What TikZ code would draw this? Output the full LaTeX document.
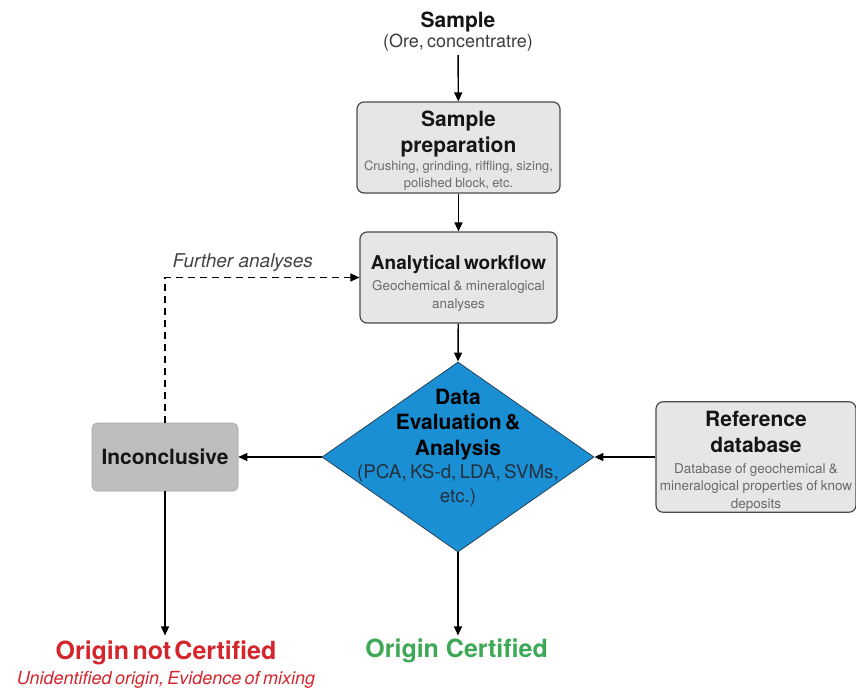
\documentclass[tikz,border=0pt]{standalone}
\usepackage{fontspec}
\setmainfont{TeX Gyre Heros}
\definecolor{wfText}{HTML}{151515}
\definecolor{wfMuted}{HTML}{6A6A6A}
\definecolor{wfDark}{HTML}{3C3C3C}
\definecolor{wfBox}{HTML}{E6E6E6}
\definecolor{wfEdge}{HTML}{4A4A4A}
\definecolor{wfGrey}{HTML}{BEBEBE}
\definecolor{wfGreyEdge}{HTML}{A6A6A6}
\definecolor{wfBlue}{HTML}{1B8FD4}
\definecolor{wfBlueEdge}{HTML}{26445E}
\definecolor{wfBlueText}{HTML}{23303C}
\definecolor{wfRed}{HTML}{D4252C}
\definecolor{wfGreen}{HTML}{3DA956}
\usetikzlibrary{arrows.meta,shapes.geometric}

\tikzset{
  wfbox/.style={draw=wfEdge, fill=wfBox, line width=1.2pt, rounded corners=7pt,
    align=center, inner sep=1pt},
  wfarrow/.style={line width=1.4pt, draw=black, -{Triangle[length=9pt,width=8pt]}},
}

\begin{document}
\begin{tikzpicture}[x=1pt,y=-1pt]
  \useasboundingbox (0,0) rectangle (856,691);
  \fill[white] (0,0) rectangle (856,691);

  % -- Input sample --
  \node[align=center, text width=260pt] (smp) at (458,32) {
    {\fontsize{21}{25}\selectfont\bfseries\color{wfText} Sample\par}
    {\fontsize{18}{20}\selectfont\color{wfDark} (Ore, concentratre)\par}
  };

  % -- Main column --
  \node[wfbox, text width=201pt, minimum width=203pt, minimum height=91pt] (prep) at (458.5,147.5) {
    {\fontsize{21}{26}\selectfont\bfseries\color{wfText}\rule{0pt}{22.3pt}Sample\\preparation\par}
    {\fontsize{12.9}{17.5}\selectfont\color{wfMuted}
      Crushing, grinding, riffling, sizing,\\
      polished block, etc.\par}
  };
  \node[wfbox, text width=195pt, minimum width=197pt, minimum height=91pt] (aw) at (458.5,277.5) {
    {\fontsize{19}{23}\selectfont\bfseries\color{wfText}\rule{0pt}{25pt}Analytical workflow\par}
    \vspace{4pt}
    {\fontsize{13.4}{17.5}\selectfont\color{wfMuted}
      Geochemical \& mineralogical\\
      analyses\par}
  };

  % Decision diamond
  \node[diamond, draw=wfBlueEdge, fill=wfBlue, line width=0.8pt, inner sep=0pt,
    minimum width=272pt, minimum height=190pt] (dea) at (458,457) {};
  \node[align=center, text width=230pt] (deatext) at (458,447.5) {
    {\fontsize{21}{25.5}\selectfont\bfseries\color{black} Data\\Evaluation \&\\Analysis\par}
    {\fontsize{18.8}{23.5}\selectfont\color{wfBlueText}
      (PCA, KS-d, LDA, SVMs,\\
      etc.)\par}
  };

  % -- Side boxes --
  \node[wfbox, text width=198pt, minimum width=198pt, minimum height=108pt] (ref) at (756,457) {
    {\fontsize{21}{26}\selectfont\bfseries\color{wfText}\rule{0pt}{24pt}Reference\\database\par}
    \vspace{3pt}
    {\fontsize{13.5}{17.5}\selectfont\color{wfMuted}
      Database of geochemical \&\\
      mineralogical properties of know\\
      deposits\par}
  };
  \node[draw=wfGreyEdge, fill=wfGrey, line width=0.6pt, rounded corners=5pt,
    minimum width=146pt, minimum height=68pt] (inc) at (165,457) {
    {\fontsize{21}{25}\selectfont\bfseries\color{wfText} Inconclusive}
  };

  % -- Outcomes --
  \node[align=center, text width=380pt] (notcert) at (166,664.5) {
    {\fontsize{25}{29}\selectfont\bfseries\color{wfRed} Origin not Certified\par}
    {\fontsize{18}{25}\selectfont\itshape\color{wfRed} Unidentified origin, Evidence of mixing\par}
  };
  \node[align=center] (cert) at (458,651) {
    {\fontsize{25}{29}\selectfont\bfseries\color{wfGreen} Origin Certified}
  };

  % -- Connectors --
  \draw[wfarrow] (smp) -- (prep);
  \draw[wfarrow] (prep) -- (aw);
  \draw[wfarrow] (aw) -- (dea.north);
  \draw[wfarrow] (ref.west) -- (dea.east);
  \draw[wfarrow] (dea.west) -- (inc.east);
  \draw[wfarrow] (dea.south) -- (cert);
  \draw[wfarrow] (inc.south) -- (inc.south |- cert.north);
  \draw[wfarrow, dashed, dash pattern=on 7pt off 5pt] (inc.north) |- (aw.west)
    node[pos=0.7, above=2pt] {{\fontsize{19}{22}\selectfont\itshape\color{wfText!80} Further analyses}};
\end{tikzpicture}
\end{document}
